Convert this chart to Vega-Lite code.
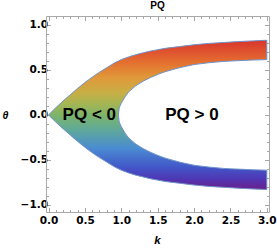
{
  "$schema": "https://vega.github.io/schema/vega-lite/v6.json",
  "width": 223,
  "height": 196,
  "autosize": {"type": "none"},
  "padding": {"left": 46, "top": 16, "right": 8, "bottom": 37},
  "background": "white",
  "config": {"view": {"stroke": null}},
  "title": {"text": "PQ", "font": "Liberation Sans", "fontSize": 10, "fontWeight": "bold", "color": "black", "offset": 5, "anchor": "middle"},
  "datasets": {
    "band": [
      {"k": 0, "uo": 0, "ui": 0, "lo": 0, "li": 0},
      {"k": 0.1, "uo": 0.08, "ui": 0, "lo": -0.08, "li": 0},
      {"k": 0.2, "uo": 0.155, "ui": 0, "lo": -0.155, "li": 0},
      {"k": 0.3, "uo": 0.225, "ui": 0, "lo": -0.225, "li": 0},
      {"k": 0.4, "uo": 0.295, "ui": 0, "lo": -0.295, "li": 0},
      {"k": 0.5, "uo": 0.36, "ui": 0, "lo": -0.36, "li": 0},
      {"k": 0.6, "uo": 0.42, "ui": 0, "lo": -0.42, "li": 0},
      {"k": 0.7, "uo": 0.475, "ui": 0, "lo": -0.475, "li": 0},
      {"k": 0.8, "uo": 0.525, "ui": 0, "lo": -0.525, "li": 0},
      {"k": 0.9, "uo": 0.575, "ui": 0, "lo": -0.575, "li": 0},
      {"k": 0.96, "uo": 0.6, "ui": 0, "lo": -0.6, "li": 0},
      {"k": 0.97, "uo": 0.603, "ui": 0.07, "lo": -0.603, "li": -0.07},
      {"k": 0.98, "uo": 0.607, "ui": 0.095, "lo": -0.607, "li": -0.095},
      {"k": 1.0, "uo": 0.615, "ui": 0.13, "lo": -0.615, "li": -0.13},
      {"k": 1.05, "uo": 0.63, "ui": 0.2, "lo": -0.63, "li": -0.2},
      {"k": 1.1, "uo": 0.645, "ui": 0.255, "lo": -0.645, "li": -0.255},
      {"k": 1.2, "uo": 0.67, "ui": 0.325, "lo": -0.67, "li": -0.325},
      {"k": 1.3, "uo": 0.69, "ui": 0.375, "lo": -0.69, "li": -0.375},
      {"k": 1.4, "uo": 0.71, "ui": 0.415, "lo": -0.71, "li": -0.415},
      {"k": 1.5, "uo": 0.725, "ui": 0.45, "lo": -0.725, "li": -0.45},
      {"k": 1.6, "uo": 0.74, "ui": 0.48, "lo": -0.74, "li": -0.48},
      {"k": 1.8, "uo": 0.76, "ui": 0.525, "lo": -0.76, "li": -0.525},
      {"k": 2.0, "uo": 0.78, "ui": 0.56, "lo": -0.78, "li": -0.56},
      {"k": 2.2, "uo": 0.795, "ui": 0.58, "lo": -0.795, "li": -0.58},
      {"k": 2.4, "uo": 0.805, "ui": 0.595, "lo": -0.805, "li": -0.595},
      {"k": 2.6, "uo": 0.815, "ui": 0.603, "lo": -0.815, "li": -0.603},
      {"k": 2.8, "uo": 0.823, "ui": 0.61, "lo": -0.823, "li": -0.61},
      {"k": 3.0, "uo": 0.83, "ui": 0.615, "lo": -0.83, "li": -0.615}
    ],
    "edge": [
      {"i": 1, "k": 3.0, "t": 0.83}, {"i": 2, "k": 2.8, "t": 0.823}, {"i": 3, "k": 2.6, "t": 0.815}, {"i": 4, "k": 2.4, "t": 0.805},
      {"i": 5, "k": 2.2, "t": 0.795}, {"i": 6, "k": 2.0, "t": 0.78}, {"i": 7, "k": 1.8, "t": 0.76}, {"i": 8, "k": 1.6, "t": 0.74},
      {"i": 9, "k": 1.5, "t": 0.725}, {"i": 10, "k": 1.4, "t": 0.71}, {"i": 11, "k": 1.3, "t": 0.69}, {"i": 12, "k": 1.2, "t": 0.67},
      {"i": 13, "k": 1.1, "t": 0.645}, {"i": 14, "k": 1.0, "t": 0.615}, {"i": 15, "k": 0.9, "t": 0.575}, {"i": 16, "k": 0.8, "t": 0.525},
      {"i": 17, "k": 0.7, "t": 0.475}, {"i": 18, "k": 0.6, "t": 0.42}, {"i": 19, "k": 0.5, "t": 0.36}, {"i": 20, "k": 0.4, "t": 0.295},
      {"i": 21, "k": 0.3, "t": 0.225}, {"i": 22, "k": 0.2, "t": 0.155}, {"i": 23, "k": 0.1, "t": 0.08}, {"i": 24, "k": 0, "t": 0},
      {"i": 25, "k": 0.1, "t": -0.08}, {"i": 26, "k": 0.2, "t": -0.155}, {"i": 27, "k": 0.3, "t": -0.225}, {"i": 28, "k": 0.4, "t": -0.295},
      {"i": 29, "k": 0.5, "t": -0.36}, {"i": 30, "k": 0.6, "t": -0.42}, {"i": 31, "k": 0.7, "t": -0.475}, {"i": 32, "k": 0.8, "t": -0.525},
      {"i": 33, "k": 0.9, "t": -0.575}, {"i": 34, "k": 1.0, "t": -0.615}, {"i": 35, "k": 1.1, "t": -0.645}, {"i": 36, "k": 1.2, "t": -0.67},
      {"i": 37, "k": 1.3, "t": -0.69}, {"i": 38, "k": 1.4, "t": -0.71}, {"i": 39, "k": 1.5, "t": -0.725}, {"i": 40, "k": 1.6, "t": -0.74},
      {"i": 41, "k": 1.8, "t": -0.76}, {"i": 42, "k": 2.0, "t": -0.78}, {"i": 43, "k": 2.2, "t": -0.795}, {"i": 44, "k": 2.4, "t": -0.805},
      {"i": 45, "k": 2.6, "t": -0.815}, {"i": 46, "k": 2.8, "t": -0.823}, {"i": 47, "k": 3.0, "t": -0.83}, {"i": 48, "k": 3.0, "t": -0.615},
      {"i": 49, "k": 2.8, "t": -0.61}, {"i": 50, "k": 2.6, "t": -0.603}, {"i": 51, "k": 2.4, "t": -0.595}, {"i": 52, "k": 2.2, "t": -0.58},
      {"i": 53, "k": 2.0, "t": -0.56}, {"i": 54, "k": 1.8, "t": -0.525}, {"i": 55, "k": 1.6, "t": -0.48}, {"i": 56, "k": 1.5, "t": -0.45},
      {"i": 57, "k": 1.4, "t": -0.415}, {"i": 58, "k": 1.3, "t": -0.375}, {"i": 59, "k": 1.2, "t": -0.325}, {"i": 60, "k": 1.1, "t": -0.255},
      {"i": 61, "k": 1.05, "t": -0.2}, {"i": 62, "k": 1.0, "t": -0.13}, {"i": 63, "k": 0.98, "t": -0.095}, {"i": 64, "k": 0.97, "t": -0.07},
      {"i": 65, "k": 0.96, "t": 0}, {"i": 66, "k": 0.97, "t": 0.07}, {"i": 67, "k": 0.98, "t": 0.095}, {"i": 68, "k": 1.0, "t": 0.13},
      {"i": 69, "k": 1.05, "t": 0.2}, {"i": 70, "k": 1.1, "t": 0.255}, {"i": 71, "k": 1.2, "t": 0.325}, {"i": 72, "k": 1.3, "t": 0.375},
      {"i": 73, "k": 1.4, "t": 0.415}, {"i": 74, "k": 1.5, "t": 0.45}, {"i": 75, "k": 1.6, "t": 0.48}, {"i": 76, "k": 1.8, "t": 0.525},
      {"i": 77, "k": 2.0, "t": 0.56}, {"i": 78, "k": 2.2, "t": 0.58}, {"i": 79, "k": 2.4, "t": 0.595}, {"i": 80, "k": 2.6, "t": 0.603},
      {"i": 81, "k": 2.8, "t": 0.61}, {"i": 82, "k": 3.0, "t": 0.615}, {"i": 83, "k": 3.0, "t": 0.83}
    ],
    "labels": [
      {"k": 0.56, "t": 0, "label": "PQ < 0"},
      {"k": 1.97, "t": 0, "label": "PQ > 0"}
    ]
  },
  "layer": [
    {
      "data": {"name": "band"},
      "mark": {"type": "area", "opacity": 1, "interpolate": "monotone",
        "fill": {"gradient": "linear", "x1": 0, "y1": 0, "x2": 0, "y2": 1,
          "stops": [
            {"offset": 0, "color": "#d8352a"},
            {"offset": 0.15, "color": "#df5230"},
            {"offset": 0.3, "color": "#e4712f"},
            {"offset": 0.5, "color": "#e0983a"},
            {"offset": 0.7, "color": "#c8ae45"},
            {"offset": 0.85, "color": "#a5b653"},
            {"offset": 1, "color": "#7db46a"}
          ]}},
      "encoding": {
        "x": {"field": "k", "type": "quantitative",
          "scale": {"domain": [-0.035, 3.03], "nice": false, "zero": false},
          "axis": {"orient": "bottom", "title": "k",
            "values": [0,0.1,0.2,0.3,0.4,0.5,0.6,0.7,0.8,0.9,1.0,1.1,1.2,1.3,1.4,1.5,1.6,1.7,1.8,1.9,2.0,2.1,2.2,2.3,2.4,2.5,2.6,2.7,2.8,2.9,3.0],
            "labelExpr": "abs(datum.value*2 - round(datum.value*2)) < 1e-6 ? format(datum.value, '.1f') : ''",
            "labelFont": "DejaVu Sans", "labelFontWeight": "bold", "labelFontSize": 10.5, "labelColor": "black",
            "labelPadding": 8, "labelOverlap": false, "labelFlush": false,
            "tickSize": {"condition": {"test": "abs(datum.value*2 - round(datum.value*2)) < 1e-6", "value": -4.5}, "value": -2.5},
            "tickColor": "#a8a8a8", "tickWidth": 1, "domainColor": "#a8a8a8", "domainWidth": 1, "grid": false,
            "titleFont": "Liberation Sans", "titleFontStyle": "italic", "titleFontWeight": "bold", "titleFontSize": 11.5, "titleColor": "black",
            "titleX": 111, "titleY": 28, "titleBaseline": "middle", "titleAlign": "center"}},
        "y": {"field": "uo", "type": "quantitative",
          "scale": {"domain": [-1.08, 1.1], "nice": false, "zero": false},
          "axis": {"orient": "left", "title": "θ",
            "values": [-1.0,-0.9,-0.8,-0.7,-0.6,-0.5,-0.4,-0.3,-0.2,-0.1,0,0.1,0.2,0.3,0.4,0.5,0.6,0.7,0.8,0.9,1.0],
            "labelExpr": "abs(datum.value*2 - round(datum.value*2)) < 1e-6 ? format(datum.value, '.1f') : ''",
            "labelFont": "DejaVu Sans", "labelFontWeight": "bold", "labelFontSize": 10.5, "labelColor": "black",
            "labelPadding": 3, "labelOverlap": false, "labelFlush": false,
            "tickSize": {"condition": {"test": "abs(datum.value*2 - round(datum.value*2)) < 1e-6", "value": -4.5}, "value": -2.5},
            "tickColor": "#a8a8a8", "tickWidth": 1, "domainColor": "#a8a8a8", "domainWidth": 1, "grid": false,
            "titleFont": "Liberation Sans", "titleFontStyle": "italic", "titleFontWeight": "bold", "titleFontSize": 10.5, "titleColor": "black",
            "titleAngle": 0, "titleX": -41, "titleY": 99, "titleBaseline": "middle", "titleAlign": "center"}},
        "y2": {"field": "ui"}
      }
    },
    {
      "data": {"name": "band"},
      "mark": {"type": "area", "opacity": 1, "interpolate": "monotone",
        "fill": {"gradient": "linear", "x1": 0, "y1": 0, "x2": 0, "y2": 1,
          "stops": [
            {"offset": 0, "color": "#7db46a"},
            {"offset": 0.2, "color": "#5fa99a"},
            {"offset": 0.45, "color": "#4a8bd2"},
            {"offset": 0.7, "color": "#4257c8"},
            {"offset": 0.85, "color": "#4e38b5"},
            {"offset": 1, "color": "#6a1f8c"}
          ]}},
      "encoding": {
        "x": {"field": "k", "type": "quantitative",
          "axis": {"orient": "top", "title": null, "labels": false,
            "values": [0,0.1,0.2,0.3,0.4,0.5,0.6,0.7,0.8,0.9,1.0,1.1,1.2,1.3,1.4,1.5,1.6,1.7,1.8,1.9,2.0,2.1,2.2,2.3,2.4,2.5,2.6,2.7,2.8,2.9,3.0],
            "tickSize": {"condition": {"test": "abs(datum.value*2 - round(datum.value*2)) < 1e-6", "value": -4.5}, "value": -2.5},
            "tickColor": "#a8a8a8", "tickWidth": 1, "domainColor": "#a8a8a8", "domainWidth": 1, "grid": false}},
        "y": {"field": "lo", "type": "quantitative",
          "axis": {"orient": "right", "title": null, "labels": false,
            "values": [-1.0,-0.9,-0.8,-0.7,-0.6,-0.5,-0.4,-0.3,-0.2,-0.1,0,0.1,0.2,0.3,0.4,0.5,0.6,0.7,0.8,0.9,1.0],
            "tickSize": {"condition": {"test": "abs(datum.value*2 - round(datum.value*2)) < 1e-6", "value": -4.5}, "value": -2.5},
            "tickColor": "#a8a8a8", "tickWidth": 1, "domainColor": "#a8a8a8", "domainWidth": 1, "grid": false}},
        "y2": {"field": "li"}
      }
    },
    {
      "data": {"name": "edge"},
      "mark": {"type": "line", "color": "#6f93c9", "strokeWidth": 1, "interpolate": "linear"},
      "encoding": {
        "x": {"field": "k", "type": "quantitative", "axis": null},
        "y": {"field": "t", "type": "quantitative", "axis": null},
        "order": {"field": "i", "type": "quantitative"}
      }
    },
    {
      "data": {"name": "labels"},
      "mark": {"type": "text", "font": "Liberation Sans", "fontWeight": "bold", "fontSize": 17, "color": "black", "align": "center", "baseline": "middle"},
      "encoding": {
        "x": {"field": "k", "type": "quantitative", "axis": null},
        "y": {"field": "t", "type": "quantitative", "axis": null},
        "text": {"field": "label"}
      }
    }
  ],
  "resolve": {"axis": {"x": "independent", "y": "independent"}}
}
